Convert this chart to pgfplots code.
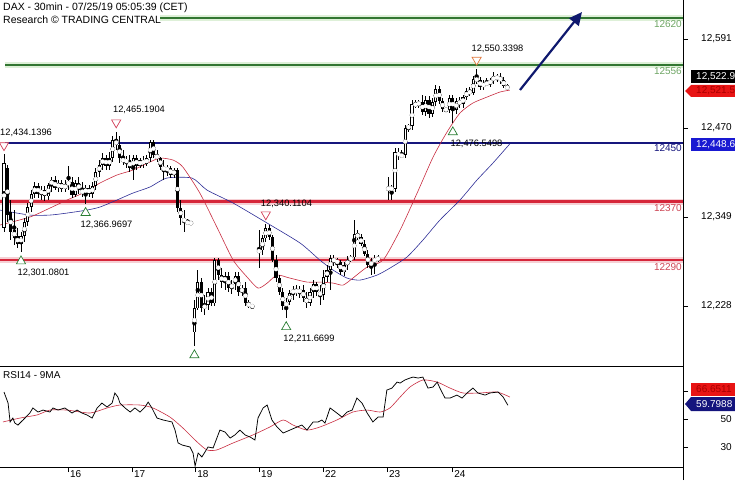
\documentclass[border=0pt]{standalone}
\usepackage{fontspec}
\setmainfont{Liberation Sans}
\usepackage{pgfplots}
\pgfplotsset{compat=1.18}
\usepackage{pgfplotstable}
\usetikzlibrary{arrows.meta}

\definecolor{lvgreen}{RGB}{50,118,50}
\definecolor{lvgreenglow}{RGB}{222,240,216}
\definecolor{lvgreentxt}{RGB}{110,165,100}
\definecolor{lvblue}{RGB}{22,22,125}
\definecolor{lvred}{RGB}{214,38,58}
\definecolor{lvredglow}{RGB}{246,208,212}
\definecolor{lvredtxt}{RGB}{205,70,85}
\definecolor{mared}{RGB}{200,45,65}
\definecolor{mablue}{RGB}{45,45,150}
\definecolor{arrowblue}{RGB}{15,25,110}
\definecolor{trired}{RGB}{210,60,85}
\definecolor{trigreen}{RGB}{40,125,50}
\definecolor{triorange}{RGB}{225,120,60}
\definecolor{boxred}{RGB}{232,20,20}
\definecolor{boxredtxt}{RGB}{170,0,0}
\definecolor{boxblue}{RGB}{25,25,210}
\definecolor{boxnavy}{RGB}{20,20,125}

\pgfplotstableread{
i o h l c
0 12333.9 12434.1 12328.5 12422.3
1 12415.5 12419.6 12342.1 12351.6
2 12355.7 12372.0 12317.6 12328.5
3 12331.2 12358.4 12310.8 12320.3
4 12323.0 12333.9 12306.7 12312.2
5 12312.2 12328.5 12301.1 12323.0
6 12323.0 12347.5 12314.9 12342.1
7 12342.1 12367.9 12336.6 12362.5
8 12362.5 12385.6 12355.7 12380.2
9 12380.2 12396.5 12374.7 12391.0
10 12391.0 12395.1 12374.7 12380.2
11 12380.2 12391.0 12372.0 12385.6
12 12385.6 12391.0 12370.6 12377.4
13 12377.4 12395.1 12372.0 12392.4
14 12392.4 12403.3 12382.9 12399.2
15 12399.2 12404.6 12385.6 12388.3
16 12388.3 12399.2 12382.9 12395.1
17 12395.1 12399.2 12382.9 12387.0
18 12387.0 12399.2 12382.9 12393.8
19 12393.8 12418.2 12385.6 12396.5
20 12396.5 12403.3 12374.7 12378.8
21 12378.8 12399.2 12376.1 12395.1
22 12395.1 12403.3 12380.2 12385.6
23 12385.6 12396.5 12376.1 12381.5
24 12381.5 12392.4 12367.0 12388.3
25 12388.3 12392.4 12376.1 12380.2
26 12380.2 12396.5 12374.7 12391.0
27 12391.0 12415.5 12385.6 12410.1
28 12410.1 12426.4 12403.3 12419.6
29 12419.6 12435.9 12412.8 12429.1
30 12429.1 12433.2 12412.8 12418.2
31 12418.2 12437.3 12412.8 12429.1
32 12429.1 12459.0 12423.7 12453.6
33 12453.6 12465.2 12440.0 12446.8
34 12446.8 12459.0 12422.3 12429.1
35 12429.1 12440.0 12419.6 12423.7
36 12423.7 12431.8 12415.5 12426.4
37 12426.4 12433.2 12410.1 12415.5
38 12415.5 12433.2 12399.2 12429.1
39 12429.1 12433.2 12412.8 12418.2
40 12418.2 12429.1 12415.5 12426.4
41 12426.4 12431.8 12415.5 12421.0
42 12421.0 12433.2 12418.2 12429.1
43 12429.1 12453.6 12423.7 12450.9
44 12450.9 12453.6 12429.1 12433.2
45 12433.2 12440.0 12423.7 12429.1
46 12429.1 12430.5 12412.8 12416.9
47 12416.9 12426.4 12399.2 12412.8
48 12412.8 12419.6 12404.6 12415.5
49 12415.5 12418.2 12401.9 12406.0
50 12406.0 12415.5 12401.9 12412.8
51 12412.8 12415.5 12355.7 12361.1
52 12361.1 12372.0 12338.0 12347.5
53 12347.5 12358.4 12328.5 12342.1
54 12342.1 12346.2 12339.4 12340.7
55 12340.7 12342.1 12339.4 12340.7
56 12192.5 12236.0 12173.4 12225.1
57 12225.1 12276.8 12222.4 12260.5
58 12260.5 12265.9 12219.7 12225.1
59 12225.1 12242.8 12215.6 12229.2
60 12229.2 12252.3 12222.4 12246.9
61 12246.9 12252.3 12227.8 12231.9
62 12231.9 12293.1 12227.8 12290.4
63 12290.4 12293.1 12263.2 12270.0
64 12270.0 12279.5 12252.3 12260.5
65 12260.5 12274.1 12249.6 12268.6
66 12268.6 12274.1 12246.9 12252.3
67 12252.3 12263.2 12244.2 12257.8
68 12257.8 12274.1 12249.6 12268.6
69 12268.6 12274.1 12241.4 12246.9
70 12246.9 12256.4 12241.4 12252.3
71 12252.3 12260.5 12227.8 12231.9
72 12231.9 12236.0 12225.1 12227.8
73 12227.8 12229.2 12225.1 12227.8
75 12301.3 12331.2 12279.5 12304.0
76 12304.0 12324.4 12297.2 12320.3
77 12320.3 12340.1 12314.9 12333.9
78 12333.9 12338.0 12317.6 12321.7
79 12321.7 12324.4 12287.7 12290.4
80 12290.4 12297.2 12260.5 12265.9
81 12265.9 12270.0 12242.8 12246.9
82 12246.9 12252.3 12222.4 12227.8
83 12227.8 12238.7 12211.7 12233.3
84 12233.3 12249.6 12229.2 12245.5
85 12245.5 12255.0 12236.0 12249.6
86 12249.6 12256.4 12241.4 12246.9
87 12246.9 12255.0 12238.7 12249.6
88 12249.6 12256.4 12233.3 12238.7
89 12238.7 12246.9 12225.1 12231.9
90 12231.9 12252.3 12227.8 12246.9
91 12246.9 12263.2 12238.7 12257.8
92 12257.8 12260.5 12241.4 12246.9
93 12246.9 12256.4 12229.2 12242.8
94 12242.8 12276.8 12236.0 12267.3
95 12267.3 12283.6 12260.5 12276.8
96 12276.8 12297.2 12249.6 12293.1
97 12293.1 12297.2 12282.2 12287.7
98 12287.7 12293.1 12279.5 12288.5
99 12287.7 12290.4 12270.0 12274.1
100 12274.1 12287.7 12268.6 12283.6
101 12283.6 12295.8 12276.8 12290.4
102 12290.4 12297.2 12287.7 12294.5
103 12294.5 12344.8 12290.4 12325.8
104 12325.8 12331.2 12317.6 12321.7
105 12321.7 12325.8 12309.4 12312.2
106 12312.2 12317.6 12295.8 12298.6
107 12298.6 12304.0 12279.5 12283.6
108 12283.6 12293.1 12270.0 12287.7
109 12287.7 12297.2 12271.4 12293.1
110 12293.1 12297.2 12287.7 12291.8
113 12387.0 12403.3 12372.0 12388.3
114 12388.3 12392.4 12372.0 12387.0
115 12387.0 12442.7 12382.9 12437.3
116 12437.3 12442.7 12426.4 12431.8
117 12431.8 12440.0 12429.1 12433.2
118 12433.2 12474.0 12429.1 12469.9
119 12469.9 12475.4 12464.5 12472.6
120 12472.6 12508.0 12467.2 12502.6
121 12502.6 12508.0 12497.1 12501.2
122 12501.2 12508.0 12497.1 12505.3
123 12505.3 12514.8 12487.6 12491.7
124 12491.7 12513.4 12486.2 12508.0
125 12508.0 12513.4 12483.5 12489.0
126 12489.0 12510.7 12484.9 12505.3
127 12505.3 12528.4 12499.8 12523.0
128 12523.0 12527.0 12502.6 12506.6
129 12506.6 12510.7 12491.7 12495.8
130 12495.8 12497.1 12491.7 12494.4
131 12494.4 12514.8 12490.3 12510.7
132 12510.7 12514.8 12476.5 12494.4
133 12494.4 12510.7 12489.0 12506.6
134 12506.6 12512.1 12497.1 12502.6
135 12502.6 12514.8 12497.1 12512.1
136 12512.1 12524.3 12508.0 12520.2
137 12520.2 12525.7 12513.4 12517.5
138 12517.5 12540.6 12514.8 12536.6
139 12536.6 12550.3 12529.8 12535.2
140 12535.2 12539.3 12521.6 12525.7
141 12525.7 12535.2 12521.6 12531.1
142 12531.1 12537.9 12527.0 12529.8
143 12529.8 12537.9 12525.7 12535.2
144 12535.2 12546.1 12529.8 12539.3
145 12539.3 12543.4 12532.5 12537.9
146 12537.9 12544.7 12529.8 12535.2
147 12535.2 12539.3 12524.3 12527.0
148 12527.0 12529.8 12521.6 12522.9
}\candles

\begin{document}
\begin{tikzpicture}
\path[use as bounding box] (0pt,0pt) rectangle (735pt,480pt);

% ---------------- main price panel ----------------
\begin{axis}[
  at={(0pt,114pt)}, anchor=south west, scale only axis,
  width=683pt, height=366pt,
  xmin=-1.176, xmax=199.7, ymin=12146.4, ymax=12644,
  axis x line=none, axis y line*=right,
  xtick=\empty,
  scaled y ticks=false,
  ytick={12228,12349,12470,12591},
  yticklabels={{12,228},{12,349},{12,470},{12,591}},
  tick align=outside, major tick length=5pt,
  tick style={black, line width=0.6pt},
  axis line style={line width=0.8pt},
  yticklabel style={font=\fontsize{10}{12}\selectfont, anchor=east, inner sep=0pt, xshift=44pt},
  clip=false,
]
% level glow
\addplot[lvgreenglow, line width=6pt, forget plot] coordinates {(45.9,12620) (199.7,12620)};
\addplot[lvgreenglow, line width=6pt, forget plot] coordinates {(0.3,12556) (199.7,12556)};
\addplot[lvredglow, line width=6pt, forget plot] coordinates {(-1.176,12370) (199.7,12370)};
\addplot[lvredglow, line width=6pt, forget plot] coordinates {(-1.176,12290) (199.7,12290)};
% levels
\addplot[lvgreen, line width=1.8pt, forget plot] coordinates {(45.9,12620) (199.7,12620)};
\addplot[lvgreen, line width=1.8pt, forget plot] coordinates {(0.3,12556) (199.7,12556)};
\addplot[lvblue, line width=2pt, forget plot] coordinates {(0.3,12450) (199.7,12450)};
\addplot[lvred, line width=2.2pt, forget plot] coordinates {(-1.176,12370) (199.7,12370)};
\addplot[lvred, line width=2.2pt, forget plot] coordinates {(-1.176,12290) (199.7,12290)};

% moving averages
\addplot[mablue, line width=0.6pt, smooth, tension=0.4, forget plot] coordinates {
(-1.2,12358.4) (7.6,12351.6) (13.5,12351.6) (18.5,12354.3) (24.4,12358.4) (28.2,12362.5)
(33.2,12372.0) (37.9,12381.5) (42.9,12389.7) (47.9,12401.9) (55.3,12401.9) (59.7,12385.6)
(67.4,12367.9) (77.4,12340.7) (87.1,12313.5) (92.9,12290.4) (96.8,12276.8) (100.9,12265.9)
(104.7,12263.2) (109.7,12270.0) (113.5,12279.5) (118.5,12294.5) (123.2,12317.6)
(128.2,12344.8) (134.1,12372.0) (139.1,12399.2) (143.8,12422.3) (148.8,12448.6)};
\addplot[mared, line width=0.6pt, smooth, tension=0.4, forget plot] coordinates {
(-1.2,12338.0) (7.6,12348.9) (13.5,12361.1) (18.5,12372.0) (23.2,12381.5) (28.2,12395.1)
(33.2,12406.0) (37.9,12412.8) (42.9,12423.7) (45.9,12429.1) (49.7,12426.4) (52.6,12416.9)
(57.6,12381.5) (62.6,12335.3) (67.4,12290.4) (71.5,12267.3) (74.7,12252.3) (77.4,12259.1)
(80.3,12270.0) (84.1,12265.9) (89.1,12260.5) (92.9,12260.5) (96.8,12259.1) (99.7,12256.4)
(102.6,12265.9) (106.8,12280.9) (111.5,12290.4) (116.5,12331.2) (121.5,12381.5)
(126.2,12430.5) (130.3,12464.5) (134.1,12490.3) (137.9,12503.9) (142.1,12512.1)
(145.9,12518.9) (148.8,12521.5)};

% candles: wicks, bodies, hollow interiors of rising candles
\addplot[black, mark=none, only marks, forget plot,
  error bars/y dir=both, error bars/y explicit, error bars/error mark=none,
  error bars/error bar style={line width=0.8pt, black}]
  table[x=i, y expr={(\thisrow{h}+\thisrow{l})/2}, y error expr={(\thisrow{h}-\thisrow{l})/2}] {\candles};
\addplot[black, mark=none, only marks, forget plot,
  error bars/y dir=both, error bars/y explicit, error bars/error mark=none,
  error bars/error bar style={line width=3.2pt, black}]
  table[x=i, y expr={(\thisrow{o}+\thisrow{c})/2}, y error expr={max(abs(\thisrow{o}-\thisrow{c})/2,0.6)}] {\candles};
\addplot[white, mark=none, only marks, forget plot,
  error bars/y dir=both, error bars/y explicit, error bars/error mark=none,
  error bars/error bar style={line width=1.3pt, white}]
  table[x=i, y expr={(\thisrow{o}+\thisrow{c})/2}, y error expr={max((\thisrow{c}-\thisrow{o})/2-0.9,0)}] {\candles};

% swing markers
\addplot[only marks, mark=triangle*, mark size=5.3pt, forget plot,
  mark options={trired, fill=white, line width=0.7pt, yshift=9pt, rotate=180}]
  coordinates {(0,12434.14) (33,12465.19) (77,12340.11)};
\addplot[only marks, mark=triangle*, mark size=5.3pt, forget plot,
  mark options={triorange, fill=white, line width=0.7pt, yshift=9pt, rotate=180}]
  coordinates {(139,12550.34)};
\addplot[only marks, mark=triangle*, mark size=5.3pt, forget plot,
  mark options={trigreen, fill=white, line width=0.7pt, yshift=-9pt}]
  coordinates {(5,12301.08) (24,12366.97) (56,12173.4) (83,12211.67) (132,12476.55)};
\end{axis}

% ---------------- RSI panel ----------------
\begin{axis}[
  at={(0pt,13pt)}, anchor=south west, scale only axis,
  width=683pt, height=101pt,
  xmin=-1.176, xmax=199.7, ymin=15.7, ymax=87.9,
  axis x line*=box, axis y line*=right,
  xtick={18.8,37.6,56.2,75,93.8,112.6,131.8},
  xticklabels={16,17,18,19,22,23,24},
  xtick pos=left,
  scaled ticks=false,
  ytick={30,50,70},
  yticklabels={30,50,{}},
  tick align=outside, major tick length=5pt,
  tick style={black, line width=0.6pt},
  axis line style={line width=0.8pt},
  xticklabel style={font=\fontsize{10}{12}\selectfont, anchor=north west, inner sep=0pt, xshift=2pt, yshift=2pt},
  yticklabel style={font=\fontsize{10}{12}\selectfont, anchor=east, inner sep=0pt, xshift=44pt},
  clip=false,
]
\addplot[mared, line width=0.6pt, smooth, tension=0.4, forget plot] coordinates {
(-0.3,47.9) (4.7,50.7) (9.7,52.9) (13.5,56.4) (18.5,56.4) (25.3,54.3) (30.3,57.9) (34.1,60.0)
(40,60.0) (43.8,57.9) (48.8,51.4) (52.6,43.6) (56.8,33.6) (59.7,27.9) (62.6,27.9) (67.4,32.9)
(73.2,38.6) (78.2,44.3) (82.1,49.3) (85,45.7) (89.1,42.1) (92.9,44.3) (97.9,49.3) (102.6,55.0)
(106.8,56.4) (110.6,55.0) (113.5,57.9) (116.5,65.7) (119.4,72.9) (123.2,77.9) (127.4,76.4)
(131.2,72.1) (135,68.6) (140,68.6) (145,69.3) (148.8,65.7)};
\addplot[black, line width=0.75pt, forget plot] coordinates {
(0,69.3) (1.2,61.4) (1.8,47.9) (2.6,50.7) (3.2,47.1) (4.1,45.7) (5.6,49.3) (7.6,54.3)
(8.5,57.9) (10,55.0) (11.5,56.4) (13.5,55.0) (14.4,57.9) (15.9,56.4) (17.9,57.9) (20,54.3)
(21.5,56.4) (22.9,54.3) (24.4,52.9) (25.9,50.7) (27.4,57.9) (28.8,61.4) (30.3,58.6) (31.8,61.4)
(32.6,68.6) (33.5,65.7) (34.1,61.4) (35.6,57.9) (37.1,55.0) (38.5,57.9) (40,55.0) (41.5,58.6)
(42.4,62.1) (43.5,57.9) (45,50.7) (46.8,49.3) (49.4,47.9) (50.3,42.1) (51.2,32.9) (52.4,31.4)
(54.7,30.0) (55.6,25.7) (56.2,16.4) (57.1,25.7) (58.2,22.9) (59.1,26.4) (60,30.0) (61.5,29.3)
(63.5,42.1) (65,40.7) (66.5,36.4) (67.9,38.6) (69.4,42.1) (70.9,38.6) (72.4,37.1) (73.8,35.0)
(74.7,50.7) (76.2,57.9) (77.4,60.0) (78.8,49.3) (80.3,44.3) (82.1,40.0) (84.1,42.1) (86.2,44.3)
(87.6,45.7) (89.1,42.1) (90.9,47.9) (92.4,47.9) (93.5,49.3) (94.4,47.1) (95.9,57.9) (97.9,54.3)
(99.4,51.4) (100.9,55.0) (102.4,56.4) (103.8,65.0) (105.3,61.4) (106.8,54.3) (108.5,47.9)
(110,51.4) (111.5,51.4) (112.6,70.7) (114.1,72.1) (115.6,76.4) (116.5,75.7) (117.9,77.9)
(119.4,79.3) (120.3,80.0) (121.8,79.3) (123.2,80.0) (124.7,72.1) (126.2,72.9) (127.4,76.4)
(128.2,72.1) (129.7,65.0) (131.2,65.0) (133.2,67.1) (134.7,65.0) (136.2,68.6) (137.9,72.1)
(139.4,68.6) (141.5,67.1) (142.9,68.6) (145.3,69.3) (146.8,65.7) (148.2,59.8)};
\end{axis}

% right edge line through both panels
\draw[black, line width=0.8pt] (683pt,0pt) -- (683pt,480pt);

% trend arrow
\draw[arrowblue, line width=2.2pt, -{Triangle[length=13pt,width=12pt]}] (520pt,390pt) -- (582pt,468pt);

% header texts
\node[anchor=west, inner sep=0pt, fill=white, font=\fontsize{10.5}{12}\selectfont] at (3pt,472.5pt) {DAX - 30min - 07/25/19 05:05:39 (CET)};
\node[anchor=west, inner sep=0pt, font=\fontsize{10.5}{12}\selectfont] at (3pt,460pt) {Research © TRADING CENTRAL};
\node[anchor=west, inner sep=0pt, font=\fontsize{10}{12}\selectfont] at (3pt,105pt) {RSI14 - 9MA};

% swing labels
\begin{scope}[every node/.style={inner sep=0pt, font=\fontsize{9.3}{11}\selectfont}]
\node[anchor=west] at (0pt,347pt) {12,434.1396};
\node at (139pt,370pt) {12,465.1904};
\node at (106.5pt,255pt) {12,366.9697};
\node at (43.5pt,207pt) {12,301.0801};
\node at (286.5pt,276pt) {12,340.1104};
\node at (309pt,141pt) {12,211.6699};
\node at (476.5pt,336pt) {12,476.5498};
\node at (497.5pt,431pt) {12,550.3398};
\end{scope}

% level labels
\begin{scope}[every node/.style={inner sep=0pt, anchor=east, font=\fontsize{10}{12}\selectfont}]
\node[text=lvgreentxt] at (682pt,456pt) {12620};
\node[text=lvgreentxt] at (682pt,409pt) {12556};
\node[text=lvblue] at (682pt,332pt) {12450};
\node[text=lvredtxt] at (682pt,272pt) {12370};
\node[text=lvredtxt] at (682pt,213pt) {12290};
\end{scope}

% value boxes on the right scale
\fill[black] (691pt,397pt) rectangle (740pt,410pt);
\node[anchor=west, inner sep=0pt, text=white, font=\fontsize{10}{12}\selectfont] at (696pt,403.5pt) {12,522.9};
\fill[boxred] (685pt,389pt) -- (691pt,395pt) -- (740pt,395pt) -- (740pt,383pt) -- (691pt,383pt) -- cycle;
\node[anchor=west, inner sep=0pt, text=boxredtxt, font=\fontsize{10}{12}\selectfont] at (696pt,389pt) {12,521.5};
\fill[boxblue] (691pt,329pt) rectangle (740pt,342pt);
\node[anchor=west, inner sep=0pt, text=white, font=\fontsize{10}{12}\selectfont] at (696pt,335.5pt) {12,448.6};
\fill[boxred] (691pt,84pt) rectangle (740pt,97pt);
\node[anchor=west, inner sep=0pt, text=boxredtxt, font=\fontsize{10}{12}\selectfont] at (696pt,90.5pt) {66.6511};
\fill[boxnavy] (685pt,76pt) -- (691pt,83pt) -- (740pt,83pt) -- (740pt,69pt) -- (691pt,69pt) -- cycle;
\node[anchor=west, inner sep=0pt, text=white, font=\fontsize{10}{12}\selectfont] at (696pt,76pt) {59.7988};
\end{tikzpicture}
\end{document}
